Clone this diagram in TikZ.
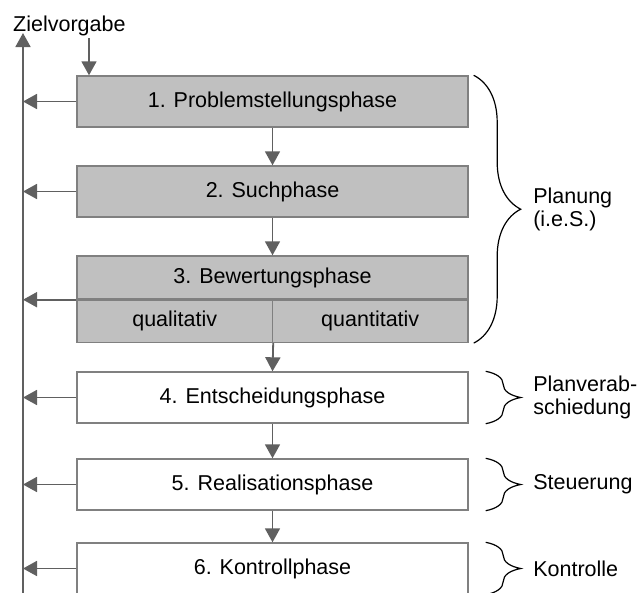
\documentclass[tikz,border=0pt]{standalone}
\usepackage{fontspec}
\setmainfont{Liberation Sans}
\usetikzlibrary{arrows.meta}
\usetikzlibrary{decorations.pathreplacing}

\definecolor{phasegray}{RGB}{192,192,192}
\definecolor{framegray}{RGB}{128,128,128}
\definecolor{arrowgray}{RGB}{96,96,96}

\begin{document}
\begin{tikzpicture}[x=1pt,y=-1pt,font=\fontsize{21.5}{23}\selectfont,
  phase/.style={draw=framegray,line width=1.4pt,minimum width=391pt,minimum height=51pt,inner sep=0pt},
  plan/.style={phase,fill=phasegray},
  flow/.style={arrowgray,line width=1.8pt,-{Triangle[length=14pt,width=15pt]}},
  bracket/.style={draw,line width=1.2pt,decorate,decoration={brace,amplitude=#1}},
  side/.style={anchor=west,align=left,inner sep=0pt}]

\def\midx{272.5}
\def\halfw{195.5pt}

\useasboundingbox (0,0) rectangle (637,592);
\clip (0,0) rectangle (637,592);

\node[plan] (p1) at (\midx,101.5) {1. Problemstellungsphase};
\node[plan] (p2) at (\midx,191.5) {2. Suchphase};
\node[plan,minimum height=43pt] (p3) at (\midx,277.5) {3. Bewertungsphase};
\node[plan,minimum width=\halfw,minimum height=42pt,anchor=north west] (p3a) at (p3.south west) {qualitativ};
\node[plan,minimum width=\halfw,minimum height=42pt,anchor=north east] (p3b) at (p3.south east) {quantitativ};
\node[phase] (p4) at (\midx,397.5) {4. Entscheidungsphase};
\node[phase] (p5) at (\midx,484.5) {5. Realisationsphase};
\node[phase] (p6) at (\midx,568.5) {6. Kontrollphase};

\node[anchor=base west,inner sep=0pt] (zv) at (13,31) {Zielvorgabe};

\coordinate (zin) at (89,38);
\coordinate (fbtop) at (23,33);
\coordinate (fbbot) at (23,600);

% Rueckkopplung
\draw[flow] (fbbot) -- (fbtop);
\draw[flow] (zin) -- (zin |- p1.north);
\foreach \n in {p1,p2,p4,p5,p6}
  \draw[flow] (\n.west) -- (fbtop |- \n.west);
\draw[flow] (p3.south west) -- (fbtop |- p3.south west);

% Ablauf
\draw[flow] (p1) -- (p2);
\draw[flow] (p2) -- (p3);
\draw[flow] (p3a.south east) -- (p4.north);
\draw[flow] (p4) -- (p5);
\draw[flow] (p5) -- (p6);

% Klammern
\draw[bracket=47pt] ([xshift=5pt]p1.north east) -- ([xshift=5pt]p3b.south east)
  node[side,midway,xshift=59pt] {Planung\\(i.e.S.)};
\draw[bracket=35pt] ([xshift=17pt]p4.north east) -- ([xshift=17pt]p4.south east)
  node[side,midway,xshift=47pt] {Planverab-\\schiedung};
\draw[bracket=35pt] ([xshift=17pt]p5.north east) -- ([xshift=17pt]p5.south east)
  node[side,midway,xshift=47pt] {Steuerung};
\draw[bracket=35pt] ([xshift=17pt]p6.north east) -- ([xshift=17pt]p6.south east)
  node[side,midway,xshift=47pt] {Kontrolle};

\end{tikzpicture}
\end{document}
